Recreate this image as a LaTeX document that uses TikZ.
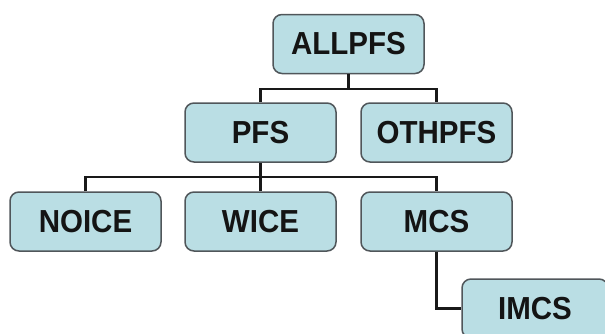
\documentclass[tikz,border=0pt]{standalone}
\usepackage{fontspec}
\setmainfont{Liberation Sans}
\usepackage{tikz}
\definecolor{boxfill}{RGB}{186,222,228}
\definecolor{boxline}{RGB}{80,86,90}
\newcommand{\boxtext}[1]{\scalebox{1}[1.08]{#1}}
\tikzset{
	pfsbox/.style={draw=boxline, line width=1.5pt, fill=boxfill, rounded corners=9pt,
		minimum width=151pt, minimum height=59pt, inner sep=0pt,
		font=\fontsize{29.5}{29.5}\selectfont\bfseries, text=black!92},
	link/.style={line width=2.5pt, black!90}
}

\begin{document}
\begin{tikzpicture}[x=1pt, y=-1pt]
			%%%%% START %%%%%
			
			\useasboundingbox (0, 0) rectangle (605, 333);
			\clip (0, 0) rectangle (605, 333);
			
			\node[pfsbox] (allpfs) at (348.5, 44) {\boxtext{ALLPFS}};
			
			\node[pfsbox] (pfs) at (260.5, 132.5) {\boxtext{PFS}};
			\node[pfsbox] (othpfs) at (436.5, 132.5) {\boxtext{OTHPFS}};
			
			\node[pfsbox] (noice) at (85.5, 221.5) {\boxtext{NOICE}};
			\node[pfsbox] (wice) at (260.5, 221.5) {\boxtext{WICE}};
			\node[pfsbox] (mcs) at (436.5, 221.5) {\boxtext{MCS}};
			
			\node[pfsbox, minimum width=146pt] (imcs) at (535, 308.5) {\boxtext{IMCS}};
			
			\coordinate (forktop) at (348.5, 89);
			\coordinate (forkmid) at (260.5, 177);
			\coordinate (bend) at (436.5, 308.5);
			
			\draw[link] (allpfs) -- (forktop);
			\draw[link] (pfs.north) |- (forktop) -| (othpfs.north);
			
			\draw[link] (pfs) -- (forkmid);
			\draw[link] (noice.north) |- (forkmid) -| (mcs.north);
			\draw[link] (forkmid) -- (wice.north);
			
			\draw[link] (mcs) -- (bend) -- (imcs.west);
			
			%%%%% END %%%%%
\end{tikzpicture}
\end{document}
